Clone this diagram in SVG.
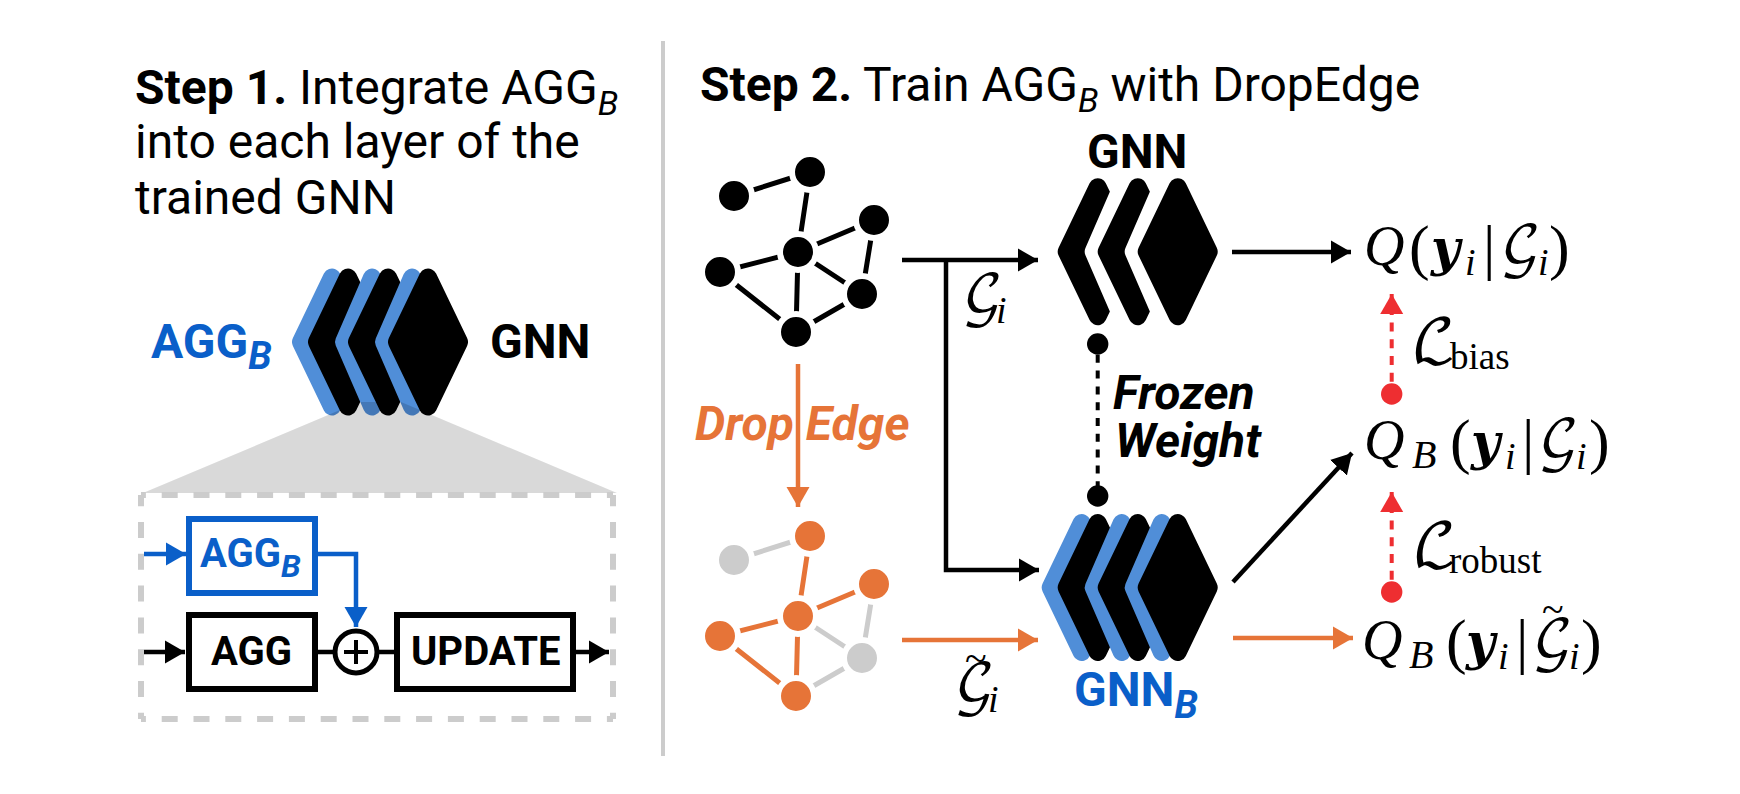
<svg xmlns="http://www.w3.org/2000/svg" width="1740" height="794" viewBox="0 0 1740 794">
<style>
text{font-family:Roboto,"Liberation Sans",sans-serif}
.h{font-size:48px;fill:#000}
.b{font-weight:700}
.bi{font-weight:700;font-style:italic}
.blue{fill:#0a5fc9}
.or{fill:#e67438}
.m{font-family:"Liberation Serif",serif;fill:#000}
.q{font-style:italic;font-size:56px}
.p{font-size:62px}
.yb{font-family:"DejaVu Serif",serif;font-weight:700;font-style:italic;font-size:50px}
.s{font-style:italic;font-size:38px}
.sb{font-style:italic;font-size:40px}
.g{font-family:"DejaVu Math TeX Gyre","Liberation Serif",serif;font-size:54px;font-style:normal}
.l{font-family:"DejaVu Math TeX Gyre","Liberation Serif",serif;font-size:60px;font-style:normal}
.t{font-size:40px}
.u{font-size:37px}
.ln{fill:none;stroke:#000;stroke-width:4.5}
.lb{fill:none;stroke:#0a5fc9;stroke-width:4.5}
.lo{fill:none;stroke:#e67438;stroke-width:4.5}
.lr{fill:none;stroke:#ee2e31;stroke-width:4;stroke-dasharray:9 7.7;stroke-dashoffset:4.4}
.lk{fill:none;stroke:#000;stroke-width:4;stroke-dasharray:8 7.8;stroke-dashoffset:5}
.e{stroke-width:5}
.ek{stroke:#000}.eo{stroke:#e67438}.eg{stroke:#ccc}
.n{r:18px;stroke:#fff;stroke-width:6}
.nk{fill:#000}.no{fill:#e67438}.ng{fill:#ccc}
.bx{fill:#fff;stroke-width:6}
.d{fill:#000;stroke:#000;stroke-width:18;stroke-linejoin:round}
.bl{fill:#508ed8;stroke:#508ed8;stroke-width:18;stroke-linejoin:round}
.wh{fill:#fff;stroke:#fff;stroke-width:18;stroke-linejoin:round}
.dash{fill:none;stroke:#ccc;stroke-width:6;stroke-dasharray:16 15.8}
</style>
<defs>
<polygon id="dia" points="-31,0 0,-64.5 31,0 0,64.5"/>
<polygon id="dia2" points="-28,0 0,-64.5 31,0 0,64.5"/>
<marker id="ak" markerUnits="userSpaceOnUse" markerWidth="20" markerHeight="24" refX="20" refY="12" orient="auto"><path d="M0,0.5L20,12L0,23.5Z" fill="#000"/></marker>
<marker id="ab" markerUnits="userSpaceOnUse" markerWidth="20" markerHeight="24" refX="20" refY="12" orient="auto"><path d="M0,0.5L20,12L0,23.5Z" fill="#0a5fc9"/></marker>
<marker id="ao" markerUnits="userSpaceOnUse" markerWidth="20" markerHeight="24" refX="20" refY="12" orient="auto"><path d="M0,0.5L20,12L0,23.5Z" fill="#e67438"/></marker>
<marker id="ar" markerUnits="userSpaceOnUse" markerWidth="20" markerHeight="24" refX="20" refY="12" orient="auto"><path d="M0,0.5L20,12L0,23.5Z" fill="#ee2e31"/></marker>
</defs>
<rect width="1740" height="794" fill="#fff"/>
<rect id="divider" x="661" y="41" width="4" height="715" fill="#ccc"/>

<g id="step1-title">
<text class="h" x="135" y="104"><tspan class="b">Step 1.</tspan> Integrate AGG<tspan font-style="italic" font-size="34" dy="11">B</tspan></text>
<text class="h" x="135" y="158">into each layer of the</text>
<text class="h" x="135" y="214">trained GNN</text>
</g>
<g id="step2-title">
<text class="h" x="700" y="101"><tspan class="b">Step 2.</tspan> Train AGG<tspan font-style="italic" font-size="34" dy="11">B</tspan><tspan dy="-11"> with DropEdge</tspan></text>
</g>

<g id="stack-step1" transform="translate(428,342)">
<use href="#dia" x="-96" class="bl"/><use href="#dia" x="-80" class="d"/>
<use href="#dia2" x="-56" class="bl"/><use href="#dia" x="-40" class="d"/>
<use href="#dia2" x="-16" class="bl"/><use href="#dia" class="d"/>
</g>
<polygon id="zoom-wedge" points="359,402 401,402 617,493 143,493" fill="#000" fill-opacity=".15"/>
<g id="label-aggb"><text class="blue b" x="151" y="358" font-size="48">AGG<tspan font-style="italic" font-size="38" dy="11">B</tspan></text></g>
<g id="label-gnn"><text class="b" x="490" y="358" font-size="48">GNN</text></g>

<g id="module-box"><path class="dash" stroke-dashoffset="11.1" d="M141,495H613M141,719H613"/><path class="dash" stroke-dashoffset="9.8" d="M141,719V495M613,719V495"/></g>
<g id="agg-b"><rect class="bx" x="189" y="519" width="126" height="74" stroke="#0a5fc9"/><text class="blue b" x="200" y="567" font-size="40">AGG<tspan font-style="italic" font-size="32" dy="10">B</tspan></text></g>
<g id="agg"><rect class="bx" x="189" y="615" width="126" height="74" stroke="#000"/><text class="b" x="211" y="665" font-size="40">AGG</text></g>
<g id="plus"><circle cx="356" cy="652" r="21" fill="#fff" stroke="#000" stroke-width="5"/><path d="M356,640V664M344,652H368" stroke="#000" stroke-width="4" fill="none"/></g>
<g id="update"><rect class="bx" x="397" y="615" width="176" height="74" stroke="#000"/><text class="b" x="411" y="665" font-size="40">UPDATE</text></g>

<g id="connectors">
<path class="lb" d="M144,554H186" marker-end="url(#ab)"/>
<path class="lb" d="M315,554H356V627" marker-end="url(#ab)"/>
<path class="ln" d="M144,652H185" marker-end="url(#ak)"/>
<path class="ln" d="M318,652H335M377,652H394"/>
<path class="ln" d="M576,652H609" marker-end="url(#ak)"/>
<path class="lo" d="M798,364V507" marker-end="url(#ao)"/>
<path class="ln" d="M902,260H1038" marker-end="url(#ak)"/>
<path class="ln" d="M946,260V570H1039" marker-end="url(#ak)"/>
<path class="lo" d="M902,640H1038" marker-end="url(#ao)"/>
<path class="ln" d="M1232,252H1351" marker-end="url(#ak)"/>
<path class="ln" d="M1233,582L1352,453" marker-end="url(#ak)"/>
<path class="lo" d="M1233,638H1353" marker-end="url(#ao)"/>
<path class="lk" d="M1097.7,344V496"/>
<path class="lr" d="M1391.7,394V294" marker-end="url(#ar)"/>
<path class="lr" d="M1391.7,592V492" marker-end="url(#ar)"/>
<g class="e ek">
<path d="M734,196L810,172M810,172L798,252M798,252L874,220M874,220L862,294M798,252L862,294M798,252L720,272M798,252L796,332M720,272L796,332M796,332L862,294"/>
</g>
<g class="e">
<path class="eg" d="M734,560L810,536M798,616L862,658M874,584L862,658M796,696L862,658"/>
<path class="eo" d="M810,536L798,616M798,616L874,584M798,616L720,636M798,616L796,696M720,636L796,696"/>
</g>
</g>

<g id="dots"><circle cx="1097.7" cy="344" r="10.7"/><circle cx="1097.7" cy="496" r="10.7"/><circle cx="1391.7" cy="394" r="10.7" fill="#ee2e31"/><circle cx="1391.7" cy="592" r="10.7" fill="#ee2e31"/></g>

<g id="graph-full">
<circle class="n nk" cx="734" cy="196"/><circle class="n nk" cx="810" cy="172"/><circle class="n nk" cx="874" cy="220"/><circle class="n nk" cx="798" cy="252"/><circle class="n nk" cx="720" cy="272"/><circle class="n nk" cx="862" cy="294"/><circle class="n nk" cx="796" cy="332"/>
</g>
<g id="graph-dropped">
<circle class="n ng" cx="734" cy="560"/><circle class="n no" cx="810" cy="536"/><circle class="n no" cx="874" cy="584"/><circle class="n no" cx="798" cy="616"/><circle class="n no" cx="720" cy="636"/><circle class="n ng" cx="862" cy="658"/><circle class="n no" cx="796" cy="696"/>
</g>

<g id="label-dropedge"><text class="or bi" x="695" y="440" font-size="48">Drop Edge</text></g>
<g id="stack-gnn" transform="translate(1177.7,251.7)">
<use href="#dia" x="-80" class="d"/><use href="#dia2" x="-56" class="wh"/><use href="#dia" x="-40" class="d"/><use href="#dia2" x="-16" class="wh"/><use href="#dia" class="d"/>
</g>
<g id="label-gnn-top"><text class="b" x="1087" y="168" font-size="48">GNN</text></g>
<g id="stack-gnnb" transform="translate(1177.7,587.5)">
<use href="#dia" x="-96" class="bl"/><use href="#dia" x="-80" class="d"/><use href="#dia2" x="-56" class="bl"/><use href="#dia" x="-40" class="d"/><use href="#dia2" x="-16" class="bl"/><use href="#dia" class="d"/>
</g>
<g id="label-gnnb"><text class="blue b" x="1074" y="706" font-size="48">GNN<tspan font-style="italic" font-size="38" dy="12">B</tspan></text></g>
<g id="label-frozen"><text class="bi" x="1113" y="409" font-size="48">Frozen</text><text class="bi" x="1115" y="457" font-size="48">Weight</text></g>

<g id="formulas">
<text class="m"><tspan class="g" x="962" y="314">𝒢</tspan><tspan class="s" x="996" y="323">i</tspan></text>
<text class="m"><tspan class="g" x="954" y="703">𝒢</tspan><tspan class="s" x="988" y="712">i</tspan></text>
<text class="m t" x="965" y="672">~</text>
<text class="m"><tspan class="q" x="1364" y="265">Q</tspan><tspan class="p" x="1409" y="268">(</tspan><tspan class="yb" x="1431" y="265">y</tspan><tspan class="s" x="1465" y="275">i</tspan><tspan class="p" x="1483" y="268">|</tspan><tspan class="g" x="1500" y="265">𝒢</tspan><tspan class="s" x="1538" y="275">i</tspan><tspan class="p" x="1549" y="268">)</tspan></text>
<text class="m"><tspan class="q" x="1364" y="458.5">Q</tspan><tspan class="sb" x="1412" y="468">B</tspan><tspan class="p" x="1450" y="461.5">(</tspan><tspan class="yb" x="1471" y="458.5">y</tspan><tspan class="s" x="1505" y="468.5">i</tspan><tspan class="p" x="1522" y="461.5">|</tspan><tspan class="g" x="1538" y="458.5">𝒢</tspan><tspan class="s" x="1576" y="468.5">i</tspan><tspan class="p" x="1589" y="461.5">)</tspan></text>
<text class="m"><tspan class="q" x="1362" y="658.5">Q</tspan><tspan class="sb" x="1409" y="668">B</tspan><tspan class="p" x="1446" y="661.5">(</tspan><tspan class="yb" x="1466" y="658.5">y</tspan><tspan class="s" x="1498" y="668.5">i</tspan><tspan class="p" x="1516" y="661.5">|</tspan><tspan class="g" x="1532" y="658.5">𝒢</tspan><tspan class="s" x="1569" y="668.5">i</tspan><tspan class="p" x="1581" y="661.5">)</tspan></text>
<text class="m t" x="1542" y="623">~</text>
<text class="m"><tspan class="l" x="1411" y="362">ℒ</tspan><tspan class="u" x="1450" y="369">bias</tspan></text>
<text class="m"><tspan class="l" x="1412" y="566">ℒ</tspan><tspan class="u" x="1449" y="573">robust</tspan></text>
</g>
</svg>
